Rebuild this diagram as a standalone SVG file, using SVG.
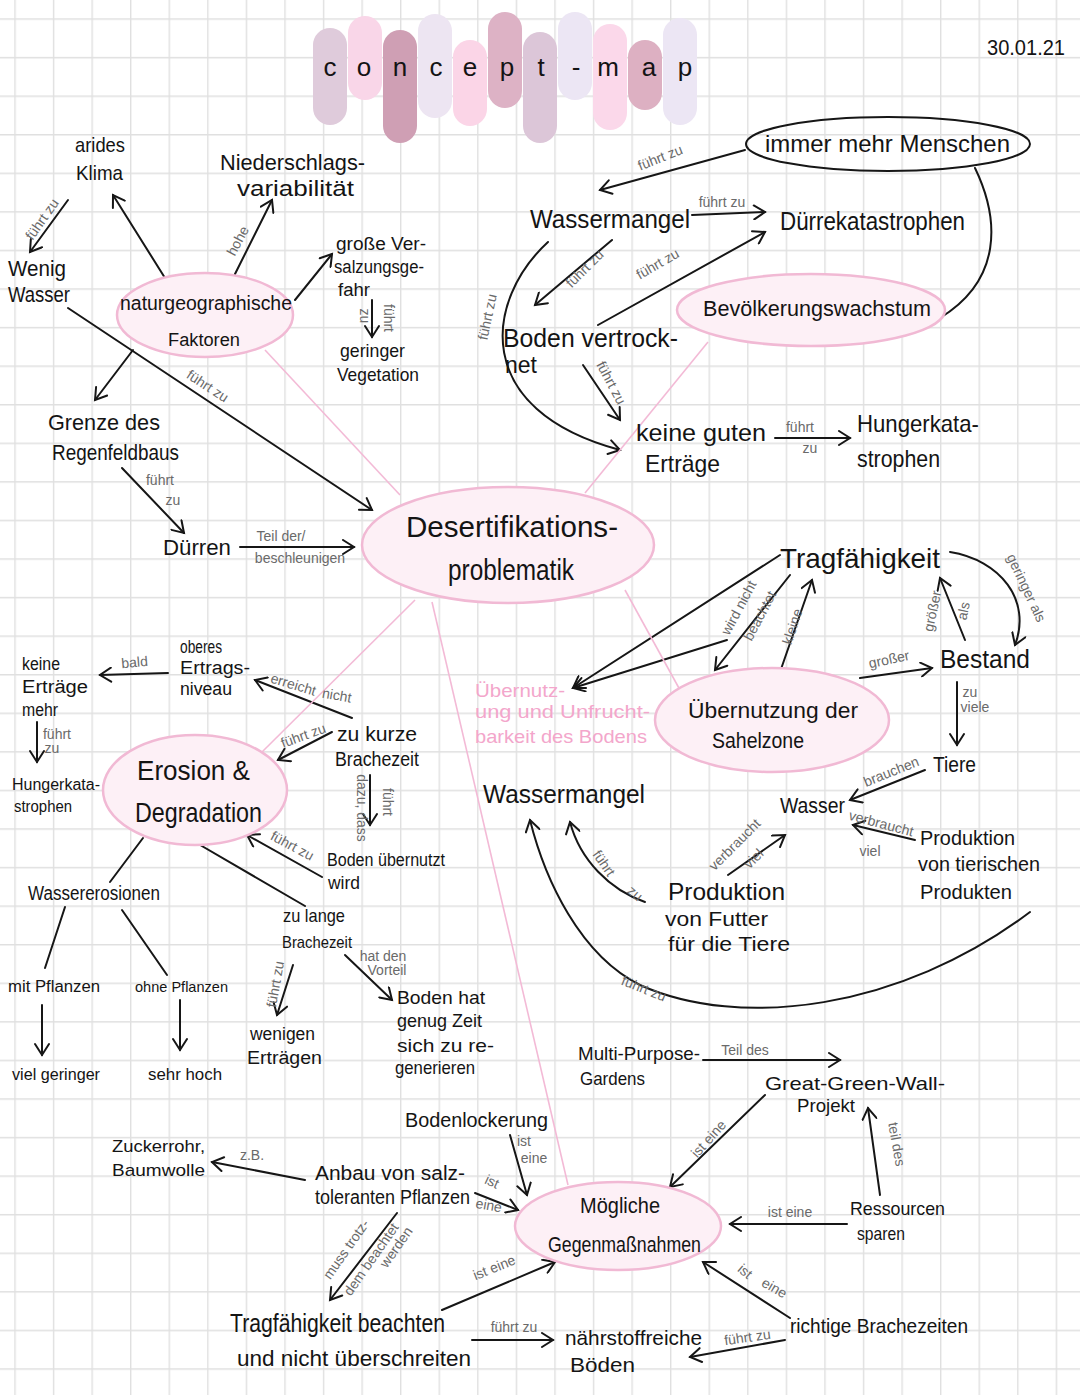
<svg xmlns="http://www.w3.org/2000/svg" width="1080" height="1395" viewBox="0 0 1080 1395">
<defs>
<style>
text{font-family:"Liberation Sans Narrow","Liberation Sans",Arial,sans-serif;fill:#141414}
.lb{font-size:14px;fill:#6a6a6a;text-anchor:middle}
.pk{fill:#f3a6cb}
.e{fill:none;stroke:#161616;stroke-width:2;stroke-linecap:round;marker-end:url(#a)}
.l{fill:none;stroke:#161616;stroke-width:2;stroke-linecap:round}
.p{fill:none;stroke:#f3bad6;stroke-width:1.6}
.ov{fill:#fdf0f6;stroke:#f1b9d4;stroke-width:2.5}
.bar{stroke:none}
</style>
<marker id="a" markerWidth="16" markerHeight="16" refX="13" refY="8" orient="auto" markerUnits="userSpaceOnUse"><path d="M2,1 L13,8 L2,15" fill="none" stroke="#161616" stroke-width="2" stroke-linecap="round"/></marker>
<pattern id="g" width="38.57" height="38.57" patternUnits="userSpaceOnUse" x="14.3" y="18.3"><path d="M0,0.7 H38.57 M0.7,0 V38.57" fill="none" stroke="#e0e0e0" stroke-width="1.4"/></pattern>
</defs>
<rect width="1080" height="1395" fill="#fff"/>
<rect width="1080" height="1395" fill="url(#g)"/>

<g id="title">
<rect class="bar" x="313" y="28" width="34" height="97" rx="17" fill="#dfcbdb"/>
<rect class="bar" x="348" y="16" width="34" height="84" rx="17" fill="#f9d6e8"/>
<rect class="bar" x="383" y="30" width="34" height="113" rx="17" fill="#cf9fb4"/>
<rect class="bar" x="418" y="14" width="34" height="104" rx="17" fill="#ede5f2"/>
<rect class="bar" x="453" y="40" width="34" height="86" rx="17" fill="#fbd5e7"/>
<rect class="bar" x="488" y="12" width="34" height="96" rx="17" fill="#ddb2c5"/>
<rect class="bar" x="523" y="32" width="34" height="111" rx="17" fill="#dcc6d8"/>
<rect class="bar" x="558" y="12" width="34" height="88" rx="17" fill="#ece6f4"/>
<rect class="bar" x="593" y="24" width="34" height="106" rx="17" fill="#fbd8ea"/>
<rect class="bar" x="628" y="40" width="34" height="70" rx="17" fill="#ddb0c2"/>
<rect class="bar" x="663" y="18" width="34" height="107" rx="17" fill="#ece6f4"/>
<text x="330 364 400 436 470 507 541 576 608 649 685" y="76" font-size="26" text-anchor="middle">concept-map</text>
</g>
<g id="date"><text x="987" y="55" font-size="22" textLength="78" lengthAdjust="spacingAndGlyphs">30.01.21</text></g>

<g id="connectors">
<path class="e" d="M68,200 L30,252"/>
<path class="e" d="M165,278 L113,195"/>
<path class="e" d="M233,278 L272,200"/>
<path class="e" d="M295,300 L332,254"/>
<path class="e" d="M372,300 L372,337"/>
<path class="e" d="M68,308 L372,510"/>
<path class="e" d="M133,350 L95,400"/>
<path class="e" d="M122,468 L184,533"/>
<path class="e" d="M240,547 L354,547"/>
<path class="e" d="M745,150 L600,190"/>
<path class="e" d="M692,215 L765,212"/>
<path class="e" d="M612,240 L535,305"/>
<path class="e" d="M598,325 L765,232"/>
<path class="e" d="M548,242 C485,300 470,410 620,450"/>
<path class="e" d="M583,365 L620,420"/>
<path class="e" d="M775,438 L850,438"/>
<path class="l" d="M975,168 C1000,220 1002,280 940,318"/>
<path class="e" d="M780,555 L573,688"/>
<path class="e" d="M727,640 L573,688"/>
<path class="e" d="M790,575 L715,670"/>
<path class="e" d="M780,672 L812,580"/>
<path class="e" d="M950,552 C1000,560 1032,600 1015,645"/>
<path class="e" d="M965,640 L940,578"/>
<path class="e" d="M860,678 L932,668"/>
<path class="e" d="M957,682 L957,745"/>
<path class="e" d="M925,770 L850,800"/>
<path class="e" d="M915,840 L853,825"/>
<path class="e" d="M728,875 L785,835"/>
<path class="e" d="M645,902 C610,890 580,860 570,822"/>
<path class="e" d="M1030,912 C900,1010 740,1030 640,985 C580,955 545,880 530,820"/>
<path class="e" d="M352,718 L255,680"/>
<path class="e" d="M168,673 L100,675"/>
<path class="e" d="M37,722 L37,762"/>
<path class="e" d="M332,732 L278,760"/>
<path class="e" d="M370,775 L370,825"/>
<path class="e" d="M322,877 L247,835"/>
<path class="l" d="M195,842 L305,906"/>
<path class="l" d="M143,838 L110,882"/>
<path class="l" d="M65,907 L45,968"/>
<path class="l" d="M122,910 L167,975"/>
<path class="e" d="M42,1005 L42,1055"/>
<path class="e" d="M180,1000 L180,1050"/>
<path class="e" d="M293,965 L277,1015"/>
<path class="e" d="M345,955 L392,1000"/>
<path class="e" d="M510,1135 L527,1195"/>
<path class="e" d="M305,1180 L212,1162"/>
<path class="e" d="M475,1193 L518,1210"/>
<path class="e" d="M397,1213 L330,1300"/>
<path class="e" d="M442,1310 L555,1262"/>
<path class="e" d="M472,1340 L553,1340"/>
<path class="e" d="M785,1340 L690,1357"/>
<path class="e" d="M790,1318 L703,1262"/>
<path class="e" d="M847,1224 L730,1224"/>
<path class="e" d="M880,1195 L868,1108"/>
<path class="e" d="M765,1095 L670,1187"/>
<path class="e" d="M703,1060 L840,1060"/>
<path class="p" d="M265,350 L400,495"/>
<path class="p" d="M708,342 L585,493"/>
<path class="p" d="M625,590 L680,690"/>
<path class="p" d="M415,600 L262,752"/>
<path class="p" d="M432,602 L568,1185"/>
<g id="labels">
<text class="lb" transform="translate(46,222) rotate(-55)">führt zu</text>
<text class="lb" transform="translate(242,243) rotate(-62)">hohe</text>
<text class="lb" transform="translate(384,318) rotate(90)" font-size="12">führt</text>
<text class="lb" transform="translate(360,316) rotate(90)" font-size="12">zu</text>
<text class="lb" transform="translate(205,390) rotate(33)">führt zu</text>
<text class="lb" x="160" y="485">führt</text>
<text class="lb" x="173" y="505">zu</text>
<text class="lb" x="281" y="541">Teil der/</text>
<text class="lb" x="300" y="563" font-size="13">beschleunigen</text>
<text class="lb" transform="translate(662,162) rotate(-22)">führt zu</text>
<text class="lb" x="722" y="207" font-size="12">führt zu</text>
<text class="lb" transform="translate(588,272) rotate(-45)">führt zu</text>
<text class="lb" transform="translate(660,268) rotate(-30)">führt zu</text>
<text class="lb" transform="translate(492,318) rotate(-78)">führt zu</text>
<text class="lb" transform="translate(607,385) rotate(62)" font-size="12">führt zu</text>
<text class="lb" x="800" y="432">führt</text>
<text class="lb" x="810" y="453" font-size="12">zu</text>
<text class="lb" transform="translate(743,610) rotate(-62)" font-size="13">wird nicht</text>
<text class="lb" transform="translate(764,618) rotate(-62)" font-size="13">beachtet</text>
<text class="lb" transform="translate(797,628) rotate(-72)" font-size="13">kleine</text>
<text class="lb" transform="translate(1022,590) rotate(65)" font-size="13">geringer als</text>
<text class="lb" transform="translate(937,612) rotate(-78)" font-size="12">größer</text>
<text class="lb" transform="translate(968,612) rotate(-78)" font-size="12">als</text>
<text class="lb" transform="translate(890,664) rotate(-12)" font-size="13">großer</text>
<text class="lb" x="970" y="697" font-size="12">zu</text>
<text class="lb" x="975" y="712" font-size="12">viele</text>
<text class="lb" transform="translate(893,776) rotate(-22)" font-size="13">brauchen</text>
<text class="lb" transform="translate(880,828) rotate(15)" font-size="11">verbraucht</text>
<text class="lb" x="870" y="856" font-size="12">viel</text>
<text class="lb" transform="translate(738,848) rotate(-45)" font-size="11">verbraucht</text>
<text class="lb" transform="translate(757,862) rotate(-45)" font-size="12">viel</text>
<text class="lb" transform="translate(600,866) rotate(55)" font-size="15">führt</text>
<text class="lb" transform="translate(632,897) rotate(40)" font-size="13">zu</text>
<text class="lb" transform="translate(642,993) rotate(22)" font-size="17">führt zu</text>
<text class="lb" transform="translate(292,689) rotate(17)" font-size="13">erreicht</text>
<text class="lb" transform="translate(336,700) rotate(10)" font-size="13">nicht</text>
<text class="lb" transform="translate(135,667) rotate(-5)" font-size="13">bald</text>
<text class="lb" x="57" y="739" font-size="12">führt</text>
<text class="lb" x="52" y="753" font-size="11">zu</text>
<text class="lb" transform="translate(305,740) rotate(-20)" font-size="11">führt zu</text>
<text class="lb" transform="translate(383,802) rotate(90)" font-size="13">führt</text>
<text class="lb" transform="translate(357,808) rotate(90)" font-size="12">dazu, dass</text>
<text class="lb" transform="translate(290,850) rotate(28)" font-size="12">führt zu</text>
<text class="lb" transform="translate(280,985) rotate(-80)" font-size="12">führt zu</text>
<text class="lb" x="383" y="961" font-size="11">hat den</text>
<text class="lb" x="387" y="975" font-size="11">Vorteil</text>
<text class="lb" x="524" y="1146" font-size="13">ist</text>
<text class="lb" x="534" y="1163" font-size="13">eine</text>
<text class="lb" x="252" y="1160" font-size="13">z.B.</text>
<text class="lb" transform="translate(490,1186) rotate(25)" font-size="11">ist</text>
<text class="lb" transform="translate(488,1210) rotate(10)" font-size="11">eine</text>
<text class="lb" transform="translate(350,1252) rotate(-55)" font-size="13">muss trotz-</text>
<text class="lb" transform="translate(375,1262) rotate(-55)" font-size="12">dem beachtet</text>
<text class="lb" transform="translate(400,1250) rotate(-55)" font-size="12">werden</text>
<text class="lb" transform="translate(496,1272) rotate(-22)" font-size="15">ist eine</text>
<text class="lb" x="514" y="1332" font-size="13">führt zu</text>
<text class="lb" transform="translate(748,1342) rotate(-8)" font-size="15">führt zu</text>
<text class="lb" transform="translate(742,1275) rotate(40)" font-size="14">ist</text>
<text class="lb" transform="translate(772,1292) rotate(30)" font-size="14">eine</text>
<text class="lb" x="790" y="1217" font-size="15">ist eine</text>
<text class="lb" transform="translate(892,1145) rotate(80)" font-size="13">teil des</text>
<text class="lb" transform="translate(712,1142) rotate(-48)" font-size="15">ist eine</text>
<text class="lb" x="745" y="1055" font-size="17">Teil des</text>
</g>
</g>

<g id="n-arides"><text x="75" y="152" font-size="21" textLength="50" lengthAdjust="spacingAndGlyphs">arides</text><text x="76" y="180" font-size="21" textLength="47" lengthAdjust="spacingAndGlyphs">Klima</text></g>
<g id="n-nieder"><text x="220" y="170" font-size="22" textLength="145" lengthAdjust="spacingAndGlyphs">Niederschlags-</text><text x="237" y="196" font-size="22" textLength="117" lengthAdjust="spacingAndGlyphs">variabilität</text></g>
<g id="n-wenig"><text x="8" y="276" font-size="22" textLength="58" lengthAdjust="spacingAndGlyphs">Wenig</text><text x="8" y="302" font-size="22" textLength="62" lengthAdjust="spacingAndGlyphs">Wasser</text></g>
<g id="n-natur"><ellipse class="ov" cx="205" cy="315" rx="88" ry="42"/><text x="120" y="310" font-size="20" textLength="172" lengthAdjust="spacingAndGlyphs">naturgeographische</text><text x="168" y="346" font-size="18" textLength="72" lengthAdjust="spacingAndGlyphs">Faktoren</text></g>
<g id="n-versalz"><text x="336" y="250" font-size="18" textLength="90" lengthAdjust="spacingAndGlyphs">große Ver-</text><text x="334" y="273" font-size="18" textLength="90" lengthAdjust="spacingAndGlyphs">salzungsge-</text><text x="338" y="296" font-size="18" textLength="32" lengthAdjust="spacingAndGlyphs">fahr</text></g>
<g id="n-veget"><text x="340" y="357" font-size="19" textLength="65" lengthAdjust="spacingAndGlyphs">geringer</text><text x="337" y="381" font-size="19" textLength="82" lengthAdjust="spacingAndGlyphs">Vegetation</text></g>
<g id="n-grenze"><text x="48" y="430" font-size="22" textLength="112" lengthAdjust="spacingAndGlyphs">Grenze des</text><text x="52" y="460" font-size="22" textLength="127" lengthAdjust="spacingAndGlyphs">Regenfeldbaus</text></g>
<g id="n-duerren"><text x="163" y="555" font-size="22" textLength="68" lengthAdjust="spacingAndGlyphs">Dürren</text></g>
<g id="n-desert"><ellipse class="ov" cx="508" cy="545" rx="146" ry="58"/><text x="406" y="537" font-size="30" textLength="212" lengthAdjust="spacingAndGlyphs">Desertifikations-</text><text x="448" y="580" font-size="30" textLength="126" lengthAdjust="spacingAndGlyphs">problematik</text></g>
<g id="n-menschen"><ellipse cx="888" cy="144" rx="142" ry="27" fill="none" stroke="#161616" stroke-width="2"/><text x="765" y="152" font-size="24" textLength="245" lengthAdjust="spacingAndGlyphs">immer mehr Menschen</text></g>
<g id="n-wassermangel1"><text x="530" y="228" font-size="26" textLength="160" lengthAdjust="spacingAndGlyphs">Wassermangel</text></g>
<g id="n-duerrekat"><text x="780" y="230" font-size="26" textLength="185" lengthAdjust="spacingAndGlyphs">Dürrekatastrophen</text></g>
<g id="n-bevoelk"><ellipse class="ov" cx="811" cy="310" rx="134" ry="36"/><text x="703" y="316" font-size="22" textLength="228" lengthAdjust="spacingAndGlyphs">Bevölkerungswachstum</text></g>
<g id="n-boden"><text x="503" y="347" font-size="26" textLength="175" lengthAdjust="spacingAndGlyphs">Boden vertrock-</text><text x="505" y="373" font-size="24" textLength="32" lengthAdjust="spacingAndGlyphs">net</text></g>
<g id="n-keineguten"><text x="636" y="441" font-size="24" textLength="130" lengthAdjust="spacingAndGlyphs">keine guten</text><text x="645" y="472" font-size="24" textLength="75" lengthAdjust="spacingAndGlyphs">Erträge</text></g>
<g id="n-hunger1"><text x="857" y="432" font-size="24" textLength="122" lengthAdjust="spacingAndGlyphs">Hungerkata-</text><text x="857" y="467" font-size="24" textLength="83" lengthAdjust="spacingAndGlyphs">strophen</text></g>
<g id="n-trag"><text x="780" y="568" font-size="28" textLength="160" lengthAdjust="spacingAndGlyphs">Tragfähigkeit</text></g>
<g id="n-bestand"><text x="940" y="668" font-size="26" textLength="90" lengthAdjust="spacingAndGlyphs">Bestand</text></g>
<g id="n-uebersahel"><ellipse class="ov" cx="772" cy="720" rx="117" ry="52"/><text x="688" y="718" font-size="22" textLength="170" lengthAdjust="spacingAndGlyphs">Übernutzung der</text><text x="712" y="748" font-size="22" textLength="92" lengthAdjust="spacingAndGlyphs">Sahelzone</text></g>
<g id="n-unfrucht"><text class="pk" x="475" y="697" font-size="19" textLength="90" lengthAdjust="spacingAndGlyphs">Übernutz-</text><text class="pk" x="475" y="718" font-size="19" textLength="175" lengthAdjust="spacingAndGlyphs">ung und Unfrucht-</text><text class="pk" x="475" y="743" font-size="19" textLength="172" lengthAdjust="spacingAndGlyphs">barkeit des Bodens</text></g>
<g id="n-tiere"><text x="933" y="772" font-size="22" textLength="43" lengthAdjust="spacingAndGlyphs">Tiere</text></g>
<g id="n-wassermangel2"><text x="483" y="803" font-size="26" textLength="162" lengthAdjust="spacingAndGlyphs">Wassermangel</text></g>
<g id="n-wasser"><text x="780" y="813" font-size="22" textLength="65" lengthAdjust="spacingAndGlyphs">Wasser</text></g>
<g id="n-prodtier"><text x="920" y="845" font-size="20" textLength="95" lengthAdjust="spacingAndGlyphs">Produktion</text><text x="918" y="871" font-size="20" textLength="122" lengthAdjust="spacingAndGlyphs">von tierischen</text><text x="920" y="899" font-size="20" textLength="92" lengthAdjust="spacingAndGlyphs">Produkten</text></g>
<g id="n-prodfutter"><text x="668" y="900" font-size="24" textLength="117" lengthAdjust="spacingAndGlyphs">Produktion</text><text x="665" y="926" font-size="21" textLength="103" lengthAdjust="spacingAndGlyphs">von Futter</text><text x="668" y="951" font-size="21" textLength="122" lengthAdjust="spacingAndGlyphs">für die Tiere</text></g>
<g id="n-keinemehr"><text x="22" y="670" font-size="18" textLength="38" lengthAdjust="spacingAndGlyphs">keine</text><text x="22" y="693" font-size="18" textLength="66" lengthAdjust="spacingAndGlyphs">Erträge</text><text x="22" y="716" font-size="18" textLength="36" lengthAdjust="spacingAndGlyphs">mehr</text></g>
<g id="n-hunger2"><text x="12" y="790" font-size="16" textLength="88" lengthAdjust="spacingAndGlyphs">Hungerkata-</text><text x="14" y="812" font-size="16" textLength="58" lengthAdjust="spacingAndGlyphs">strophen</text></g>
<g id="n-oberes"><text x="180" y="653" font-size="18" textLength="42" lengthAdjust="spacingAndGlyphs">oberes</text><text x="180" y="674" font-size="18" textLength="70" lengthAdjust="spacingAndGlyphs">Ertrags-</text><text x="180" y="695" font-size="18" textLength="52" lengthAdjust="spacingAndGlyphs">niveau</text></g>
<g id="n-kurze"><text x="337" y="741" font-size="20" textLength="80" lengthAdjust="spacingAndGlyphs">zu kurze</text><text x="335" y="766" font-size="20" textLength="84" lengthAdjust="spacingAndGlyphs">Brachezeit</text></g>
<g id="n-erosion"><ellipse class="ov" cx="195" cy="790" rx="92" ry="55"/><text x="137" y="780" font-size="28" textLength="113" lengthAdjust="spacingAndGlyphs">Erosion &amp;</text><text x="135" y="822" font-size="28" textLength="127" lengthAdjust="spacingAndGlyphs">Degradation</text></g>
<g id="n-bodenueber"><text x="327" y="866" font-size="18" textLength="118" lengthAdjust="spacingAndGlyphs">Boden übernutzt</text><text x="328" y="889" font-size="18" textLength="32" lengthAdjust="spacingAndGlyphs">wird</text></g>
<g id="n-wassererosion"><text x="28" y="900" font-size="20" textLength="132" lengthAdjust="spacingAndGlyphs">Wassererosionen</text></g>
<g id="n-lange"><text x="283" y="922" font-size="19" textLength="62" lengthAdjust="spacingAndGlyphs">zu lange</text><text x="282" y="948" font-size="17" textLength="70" lengthAdjust="spacingAndGlyphs">Brachezeit</text></g>
<g id="n-mitpfl"><text x="8" y="992" font-size="16" textLength="92" lengthAdjust="spacingAndGlyphs">mit Pflanzen</text></g>
<g id="n-ohnepfl"><text x="135" y="992" font-size="15" textLength="93" lengthAdjust="spacingAndGlyphs">ohne Pflanzen</text></g>
<g id="n-vielger"><text x="12" y="1080" font-size="17" textLength="88" lengthAdjust="spacingAndGlyphs">viel geringer</text></g>
<g id="n-sehrhoch"><text x="148" y="1080" font-size="16" textLength="74" lengthAdjust="spacingAndGlyphs">sehr hoch</text></g>
<g id="n-wenigen"><text x="250" y="1040" font-size="18" textLength="65" lengthAdjust="spacingAndGlyphs">wenigen</text><text x="247" y="1064" font-size="18" textLength="75" lengthAdjust="spacingAndGlyphs">Erträgen</text></g>
<g id="n-bodenhat"><text x="397" y="1004" font-size="19" textLength="88" lengthAdjust="spacingAndGlyphs">Boden hat</text><text x="397" y="1027" font-size="19" textLength="85" lengthAdjust="spacingAndGlyphs">genug Zeit</text><text x="397" y="1052" font-size="19" textLength="97" lengthAdjust="spacingAndGlyphs">sich zu re-</text><text x="395" y="1074" font-size="19" textLength="80" lengthAdjust="spacingAndGlyphs">generieren</text></g>
<g id="n-lockerung"><text x="405" y="1127" font-size="20" textLength="143" lengthAdjust="spacingAndGlyphs">Bodenlockerung</text></g>
<g id="n-zucker"><text x="112" y="1152" font-size="17" textLength="93" lengthAdjust="spacingAndGlyphs">Zuckerrohr,</text><text x="112" y="1176" font-size="17" textLength="93" lengthAdjust="spacingAndGlyphs">Baumwolle</text></g>
<g id="n-anbau"><text x="315" y="1180" font-size="20" textLength="150" lengthAdjust="spacingAndGlyphs">Anbau von salz-</text><text x="315" y="1204" font-size="20" textLength="155" lengthAdjust="spacingAndGlyphs">toleranten Pflanzen</text></g>
<g id="n-tragbeacht"><text x="230" y="1332" font-size="26" textLength="215" lengthAdjust="spacingAndGlyphs">Tragfähigkeit beachten</text><text x="237" y="1366" font-size="22" textLength="234" lengthAdjust="spacingAndGlyphs">und nicht überschreiten</text></g>
<g id="n-naehr"><text x="565" y="1345" font-size="21" textLength="137" lengthAdjust="spacingAndGlyphs">nährstoffreiche</text><text x="570" y="1372" font-size="21" textLength="65" lengthAdjust="spacingAndGlyphs">Böden</text></g>
<g id="n-richtig"><text x="790" y="1333" font-size="21" textLength="178" lengthAdjust="spacingAndGlyphs">richtige Brachezeiten</text></g>
<g id="n-moeglich"><ellipse class="ov" cx="618" cy="1226" rx="103" ry="44"/><text x="580" y="1213" font-size="22" textLength="80" lengthAdjust="spacingAndGlyphs">Mögliche</text><text x="548" y="1252" font-size="22" textLength="153" lengthAdjust="spacingAndGlyphs">Gegenmaßnahmen</text></g>
<g id="n-ressourcen"><text x="850" y="1215" font-size="19" textLength="95" lengthAdjust="spacingAndGlyphs">Ressourcen</text><text x="857" y="1240" font-size="19" textLength="48" lengthAdjust="spacingAndGlyphs">sparen</text></g>
<g id="n-greenwall"><text x="765" y="1090" font-size="19" textLength="180" lengthAdjust="spacingAndGlyphs">Great-Green-Wall-</text><text x="797" y="1112" font-size="19" textLength="58" lengthAdjust="spacingAndGlyphs">Projekt</text></g>
<g id="n-multi"><text x="578" y="1060" font-size="19" textLength="122" lengthAdjust="spacingAndGlyphs">Multi-Purpose-</text><text x="580" y="1085" font-size="19" textLength="65" lengthAdjust="spacingAndGlyphs">Gardens</text></g>
</svg>
